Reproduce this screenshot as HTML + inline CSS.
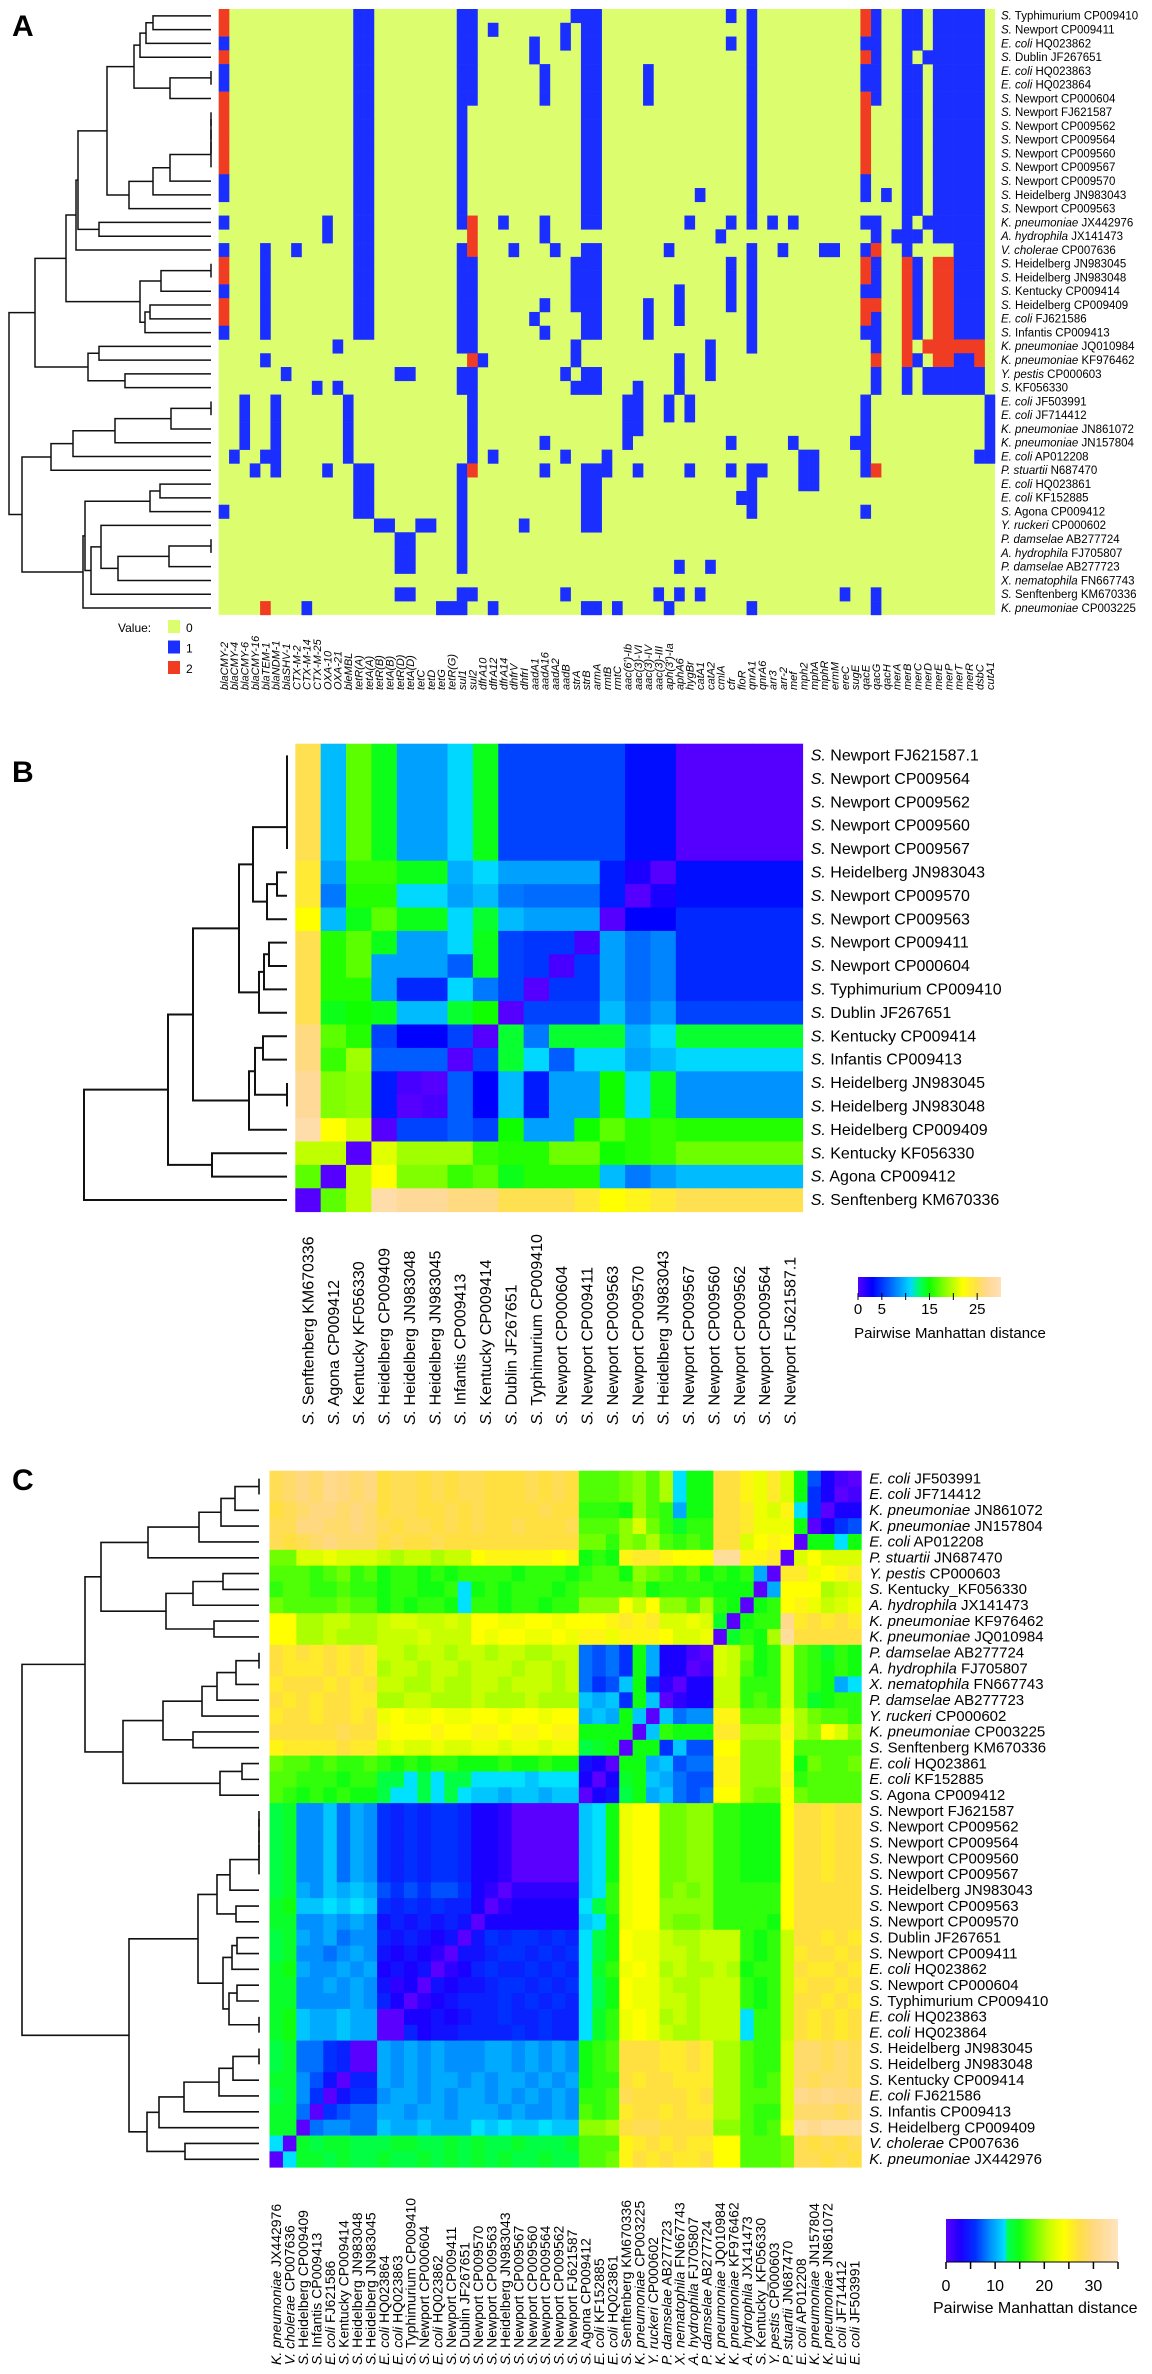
<!DOCTYPE html>
<html><head><meta charset="utf-8">
<style>
body{margin:0;background:#fff}
svg{display:block}
text{font-family:"Liberation Sans",sans-serif;fill:#000}
</style></head>
<body>
<svg id="fig" width="1152" height="2374" viewBox="0 0 1152 2374" xmlns="http://www.w3.org/2000/svg">
<defs id="defs"></defs>
<text x="12" y="36" font-size="30" font-weight="bold">A</text>
<text x="12" y="782" font-size="30" font-weight="bold">B</text>
<text x="12" y="1490" font-size="30" font-weight="bold">C</text>
<g id="gA"></g>
<g id="gB"></g>
<g id="gC"></g>
</svg>
<script>
// ---------------- Panel A data ----------------
const aGenes = ["blaCMY-2","blaCMY-4","blaCMY-6","blaCMY-16","blaTEM-1","blaNDM-1","blaSHV-1","CTX-M-2","CTX-M-14","CTX-M-25","OXA-10","OXA-21","bleMBL","tetR(A)","tetA(A)","tetR(B)","tetA(B)","tetR(D)","tetA(D)","tetC","tetD","tetG","tetR(G)","sul1","sul2","dfrA10","dfrA12","dfrA14","dhfrV","dhfrI","aadA1","aadA16","aadA2","aadB","strA","strB","armA","rmtB","rmtC","aac(6')-Ib","aac(3)-VI","aac(3)-IV","aac(3)-III","aph(3')-Ia","aphA6","hygBr","catA1","catA2","cmlA","cfr","floR","qnrA1","qnrA6","arr3","arr-2","mef","mph2","mphA","mphR","ermM","ereC","sugE","qacE","qacG","qacH","merA","merB","merC","merD","merE","merP","merT","merR","dsbC","cutA1"];
const aStrains = ["S. Typhimurium CP009410","S. Newport CP009411","E. coli HQ023862","S. Dublin JF267651","E. coli HQ023863","E. coli HQ023864","S. Newport CP000604","S. Newport FJ621587","S. Newport CP009562","S. Newport CP009564","S. Newport CP009560","S. Newport CP009567","S. Newport CP009570","S. Heidelberg JN983043","S. Newport CP009563","K. pneumoniae JX442976","A. hydrophila JX141473","V. cholerae CP007636","S. Heidelberg JN983045","S. Heidelberg JN983048","S. Kentucky CP009414","S. Heidelberg CP009409","E. coli FJ621586","S. Infantis CP009413","K. pneumoniae JQ010984","K. pneumoniae KF976462","Y. pestis CP000603","S. KF056330","E. coli JF503991","E. coli JF714412","K. pneumoniae JN861072","K. pneumoniae JN157804","E. coli AP012208","P. stuartii N687470","E. coli HQ023861","E. coli KF152885","S. Agona CP009412","Y. ruckeri CP000602","P. damselae AB277724","A. hydrophila FJ705807","P. damselae AB277723","X. nematophila FN667743","S. Senftenberg KM670336","K. pneumoniae CP003225"];
const aBlue = [
[13,14,23,24,34,35,36,49,51,63,66,67,69,70,71,72,73],
[13,14,23,24,26,33,35,36,51,63,66,67,69,70,71,72,73],
[0,13,14,23,24,30,33,35,36,49,51,62,63,66,67,69,70,71,72,73],
[13,14,23,24,30,35,36,51,63,66,68,69,70,71,72,73],
[0,13,14,23,24,31,35,36,41,51,62,63,66,67,69,70,71,72,73],
[0,13,14,23,24,31,35,36,41,51,62,63,66,67,69,70,71,72,73],
[13,14,23,24,31,35,36,41,51,63,66,67,69,70,71,72,73],
[13,14,23,35,36,51,66,67,69,70,71,72,73],
[13,14,23,35,36,51,66,67,69,70,71,72,73],
[13,14,23,35,36,51,66,67,69,70,71,72,73],
[13,14,23,35,36,51,66,67,69,70,71,72,73],
[13,14,23,35,36,51,66,67,69,70,71,72,73],
[0,13,14,23,35,36,51,62,66,67,69,70,71,72,73],
[0,13,14,23,35,36,46,51,62,64,66,67,69,70,71,72,73],
[13,14,23,35,36,51,66,67,69,70,71,72,73],
[0,10,13,14,23,27,31,35,36,45,49,51,53,55,62,63,66,68,69,70,71,72,73],
[10,13,14,31,48,63,65,66,67,69,70,71,72,73],
[0,4,7,13,14,23,28,32,35,36,43,51,54,58,59,62,66,71,72,73],
[4,13,14,23,24,34,35,36,49,51,63,67,71,72,73],
[4,13,14,23,24,34,35,36,49,51,63,67,71,72,73],
[0,4,13,14,23,24,34,35,36,44,49,51,62,63,67,71,72,73],
[4,13,14,23,24,31,34,35,36,41,44,49,51,67,71,72,73],
[4,13,14,23,24,30,35,36,41,44,51,63,67,71,72,73],
[0,4,13,14,23,24,31,35,36,41,51,62,63,67,71,72,73],
[11,23,24,34,47,51,63],
[4,25,34,44,47,67,71,72],
[6,17,18,23,24,33,35,36,44,47,63,66,68,69,70,71,72,73],
[9,11,23,24,34,35,36,40,44,63,66,68,69,70,71,72,73],
[2,5,12,24,39,40,43,45,62,74],
[2,5,12,24,39,40,43,45,62,74],
[2,5,12,24,39,40,62,74],
[2,5,12,24,31,39,49,55,61,62,74],
[1,4,5,12,24,26,33,37,56,57,62,73,74],
[3,5,10,13,14,23,31,35,36,37,40,45,49,51,52,56,57,62],
[13,14,23,35,36,51,56,57],
[13,14,23,35,36,50,51],
[0,13,14,23,35,36,51,62],
[15,16,19,20,23,29,35,36],
[17,18,23],
[17,18,23],
[17,18,23,44,47],
[],
[17,18,23,24,33,42,44,46,60,63],
[8,21,22,23,26,35,36,38,43,51,63]
];
const aRed = [
[0,62],[0,62],[],[0,62],[],[],[0,62],[0,62],[0,62],[0,62],[0,62],[0,62],[],[],[],
[24],[24],[24,63],[0,62,66,69,70],[0,62,66,69,70],[66,69,70],[0,62,63,66,69,70],[0,62,66,69,70],[66,69,70],
[66,68,69,70,71,72,73],[24,63,66,69,70,73],[],[],[],[],[],[],[],[24,63],[],[],[],[],[],[],[],[],[],[4]
];
// A tree: [left, right, mergeHeight]
const aT03 = [[[0,1,58],2,65],3,71];
const aT46 = [[4,5,0],6,41];
const aT06 = [aT03,aT46,77];
const aT714 = [[[[[[[7,8,0],9,0],10,0],11,0],12,41],13,58],14,82];
const aT014 = [aT06,aT714,104];
const aT016 = [aT014,[15,16,112],133];
const aT017 = [aT016,17,135];
const aT1823 = [[[18,19,0],20,50],[[21,22,61],23,66],71];
const aT023 = [aT017,aT1823,145];
const aT2427 = [[24,25,112],[26,27,86],123];
const aT027 = [aT023,aT2427,176];
const aT2832 = [[[[28,29,0],30,40],31,96],32,138];
const aT2833 = [aT2832,33,160];
const aA1 = [[34,35,51],36,61];
const aB2 = [[[38,39,0],40,42],41,93];
const aB4 = [[37,aB2,110],42,120];
const aT3443 = [[aA1,aB4,126],43,128];
const aT2843 = [aT2833,aT3443,189];
const aTreeData = [aT027,aT2843,202];
// ---------------- Panel B data ----------------
const bStrains = ["S. Newport FJ621587.1","S. Newport CP009564","S. Newport CP009562","S. Newport CP009560","S. Newport CP009567","S. Heidelberg JN983043","S. Newport CP009570","S. Newport CP009563","S. Newport CP009411","S. Newport CP000604","S. Typhimurium CP009410","S. Dublin JF267651","S. Kentucky CP009414","S. Infantis CP009413","S. Heidelberg JN983045","S. Heidelberg JN983048","S. Heidelberg CP009409","S. Kentucky KF056330","S. Agona CP009412","S. Senftenberg KM670336"];
const bValues = [
[25,10,17,14.5,9,9,11,14.5,5.5,5.5,5.5,5.5,5.5,3.5,3.5,0,0,0,0,0],
[25,10,17,14.5,9,9,11,14.5,5.5,5.5,5.5,5.5,5.5,3.5,3.5,0,0,0,0,0],
[25,10,17,14.5,9,9,11,14.5,5.5,5.5,5.5,5.5,5.5,3.5,3.5,0,0,0,0,0],
[25,10,17,14.5,9,9,11,14.5,5.5,5.5,5.5,5.5,5.5,3.5,3.5,0,0,0,0,0],
[25,10,17,14.5,9,9,11,14.5,5.5,5.5,5.5,5.5,5.5,3.5,3.5,0,0,0,0,0],
[24,9,16,16,14.5,14.5,9.5,11,9,9,9,9,4,2,0,3.5,3.5,3.5,3.5,3.5],
[24,7.5,15.5,15.5,11,11,9,10,7.5,7,7,7,4,0,2,3.5,3.5,3.5,3.5,3.5],
[22,10,14.5,17,14.5,14.5,11,14,10,9,9,9,0,3,3,4.5,4.5,4.5,4.5,4.5],
[25,15.5,17,14.5,9,9,11,14.5,5.5,5,5,0.5,9,7,8,4.5,4.5,4.5,4.5,4.5],
[25,15.5,17,9,9,9,6.5,14.5,5.5,5,0.5,5,9,7,8,4.5,4.5,4.5,4.5,4.5],
[25,15.5,15.5,9,4.5,4.5,11,7.5,5.5,0,5,5,9,7,8,4.5,4.5,4.5,4.5,4.5],
[25,14.5,15,14.5,10,10,14,15,0,5.5,5.5,5.5,10,7.5,9,5.5,5.5,5.5,5.5,5.5],
[26.5,17,15.5,5.5,3,3,5.5,0,14,7.5,14,14,14,9.5,11,14,14,14,14,14],
[26.5,16,19,6.5,6.5,6.5,0,5.5,14,11,6.5,11,11,9,10,11,11,11,11,11],
[27.5,18,18.5,4,0.5,0,6.5,3,10,4,9,9,15,11,14.5,8.5,8.5,8.5,8.5,8.5],
[27.5,18,18.5,4,0,0.5,6.5,3,10,4,9,9,15,11,14.5,8.5,8.5,8.5,8.5,8.5],
[29,22,20.5,0,5.5,5.5,6.5,5.5,15,9,9,15,17,15.5,16,15.5,15.5,15.5,15.5,15.5],
[20,20,0,21,19,19,19,16,15.5,15.5,17.5,17.5,15,15.5,16,17.5,17.5,17.5,17.5,17.5],
[17,0,20,22,18,18,16,17,14.5,15.5,15.5,15.5,10,7.5,9,10,10,10,10,10],
[0,17,20,29,27.5,27.5,26.5,26.5,25,25,25,24,22,23,24,25,25,25,25,25]
];
const bTicks = [0,5,15,25];
const bT04 = [[[[0,1,0],2,0],3,0],4,0];
const bT57 = [[5,6,10],7,20];
const bT07 = [bT04,bT57,34];
const bT811 = [[[8,9,18],10,23],11,28];
const bT011 = [bT07,bT811,48];
const bT1216 = [[[12,13,24],[14,15,0],32],16,38];
const bT016 = [bT011,bT1216,94];
const bT018 = [bT016,[17,18,75],119];
const bTreeData = [bT018,19,203];
// ---------------- Panel C data ----------------
const cStrains = ["E. coli JF503991","E. coli JF714412","K. pneumoniae JN861072","K. pneumoniae JN157804","E. coli AP012208","P. stuartii JN687470","Y. pestis CP000603","S. Kentucky_KF056330","A. hydrophila JX141473","K. pneumoniae KF976462","K. pneumoniae JQ010984","P. damselae AB277724","A. hydrophila FJ705807","X. nematophila FN667743","P. damselae AB277723","Y. ruckeri CP000602","K. pneumoniae CP003225","S. Senftenberg KM670336","E. coli HQ023861","E. coli KF152885","S. Agona CP009412","S. Newport FJ621587","S. Newport CP009562","S. Newport CP009564","S. Newport CP009560","S. Newport CP009567","S. Heidelberg JN983043","S. Newport CP009563","S. Newport CP009570","S. Dublin JF267651","S. Newport CP009411","E. coli HQ023862","S. Newport CP000604","S. Typhimurium CP009410","E. coli HQ023863","E. coli HQ023864","S. Heidelberg JN983045","S. Heidelberg JN983048","S. Kentucky CP009414","E. coli FJ621586","S. Infantis CP009413","S. Heidelberg CP009409","V. cholerae CP007636","K. pneumoniae JX442976"];
// base-36 coded distances, rows and columns in strain order (display columns are reversed)
const cValues = [
"0137f m qnp rr ffck hji hhh rsrsrrrs srsrssr utuvtu ts",
"1036f m qnp rr ffck hji hhh rsrsrrrs srsrssr utuvtu ts",
"3306c p mnq rr ffag hjf ggg rrsrrrrs rsrrssr tutuut sr",
"7630f n nnq rr ggeg imj hhh srrrsrrs rsrssrs tuttuu ss",
"fcff0 o pom rr ghgh kij gii rrrrrrrr rrsrrsr tttuts rs",
"mmmom 0 qpp ww ooop qqp fgf popppppo llkllkl mmmnmm ii",
"qponq q 0ag fg fhgh ijf hhg fgggfggg gfgfggf hgihgh hh",
"mlkoo o a0f ff gggg fih hhh gfgggfgf cgffggf gghggh hg",
"nmlnp o gf0 fg khjj olo jjj ggfggfgg cfggfgf hhihhh hi",
"qrqrq v ggf 0e mnmm qpq poo onoonnoo lmllmml kkllkk oo",
"rrrrr w kfg e0 nmmo ppp npp nonnoono lllmlll kkklkk oo",
"fgegh m gfi lm 0133 af6 878 llkkllkl lkllkll qrqrqr qr",
"fgfgh m gfh lm 1033 af6 878 lkllklll kllkllk qrqrqq qr",
"cafgh m ggg ll 3302 6fb 768 lklllkll kklkkll rqrqrr rq",
"ggfeh m ghg ll 3320 bf6 bab kkklkkkl kkkllkk qqrrqr qr",
"ghhik n iii pp 998b 0bf aba oonoonoo nnonnon rqrrqr rq",
"jmojk p kkk qq fffg b0f fff ppoppopp oopooop rrsrrr rr",
"hhhhh o jjj oo 77b6 ff0 fed nnmnnmnn mmnmmnm qqrqqq qp",
"ihhif o jjj pp 887b aff 034 ffgffgff fggfgfg hgghgh hi",
"hhhhg p jjj pp 778a bfe 303 cccbcccc ddcdcdd ggfggg hh",
"hhhhi o iij oo 878b afd 430 bbabbabb cdcdccd ffgfgf gh",
"rrqrr o fff gg jjii oon fcb 00000233 5665656 9a8b99 ed",
"rrqrr o fff gg jjii oon fcb 00000233 5665656 9a8b99 ed",
"rrqrr o fff gg jjii oon fcb 00000233 5665656 9a8b99 ed",
"rrqrr o fff gg jjii oon fcb 00000233 5665656 9a8b99 ed",
"rrqrr o fff gg jjii oon fcb 00000233 5665656 9a8b99 ed",
"rrrrr o ggg gg jiji oon gcb 22222023 6776767 abab9a ed",
"rrrrr o ggg gg jjjj oon gdc 33333203 5565656 bcbcbb fe",
"rrrrr o fgg gg jiij oon fcb 33333330 4545454 9a9a99 ee",
"qrqrr l gfg ll lkkl nno fdc 56566564 0434545 998a9a ed",
"rqrrq l gfg ll lkll nno fdc 65656654 4023434 9a9899 ed",
"qrqqr l ggf kl kklk non gec 56565565 3204343 a9a99a fe",
"rqrrq l gfg ll lkkl nno fdc 65656654 4340324 9a9a99 ee",
"qrqrr l gfg ll lkll nno fdc 56565655 5432035 9a9999 ee",
"rqrqr l ggc ll lklk non gec 55655655 4343300 aabaab fe",
"rqrqr l ggc ll lkkl non gec 55656555 5443500 aabaab fe",
"ststt m ggh kk qrqq rrr hgf 9a9a9aa9 99a9a9a 005688 ed",
"ststt m ggh kk qrqq rrr hgf 9a9a9aa9 99a9a9a 005688 ed",
"sttst m hgh kk qqqr rqr ggf a9a9aa9a 9aa9a9a 550479 ee",
"uuvuv m hhh kk rqrr rrs hgg 9a9a9a9a a9a9aa9 664069 ed",
"tsttt m ggh kk qqrq rrq hgh 9a99a9aa a9aa9aa 887608 ee",
"wwwvw n hgh jj rrrr ssr kjj bbcbbcbc aaabaab 889980 ee",
"srsrs i hhh oo qqrq rqp hhh edddedde deddeed ddeede 0c",
"rsrss i hhh oo rqqr qrp ihh ddeddede dededde ddedee c0"
];
const cTicks = [0,10,20,30];
const cG1 = [[[[[0,1,0],2,24],3,38],4,60],5,111];
const cG3 = [[[6,7,36],8,66],[9,10,45],93];
const cT010 = [cG1,cG3,158];
const cG5 = [[[[[11,12,0],13,23],14,42],15,57],[16,17,66],96];
const cG7 = [[18,19,17],20,39];
const cT1120 = [cG5,cG7,136];
const cT020 = [cT010,cT1120,174];
const cG8 = [[[[[[21,22,0],23,0],24,0],25,0],26,29],[27,28,23],42];
const cG9 = [[[29,30,22],31,27],[[32,33,22],[34,35,0],30],36];
const cT2135 = [cG8,cG9,61];
const cG10 = [[[[[36,37,0],38,26],39,40],40,75],41,100];
const cT3643 = [cG10,[42,43,74],112];
const cT2143 = [cT2135,cT3643,130];
const cTreeData = [cT020,cT2143,237];

// ---------------- helpers ----------------
const NS = "http://www.w3.org/2000/svg";
function el(tag, parent){const e=document.createElementNS(NS,tag);parent.appendChild(e);return e;}
function hex2rgb(h){return [parseInt(h.slice(1,3),16),parseInt(h.slice(3,5),16),parseInt(h.slice(5,7),16)];}
function makeScale(stops){return function(v){
  if(!(v>stops[0][0]))return stops[0][1];
  for(let i=1;i<stops.length;i++){if(v<=stops[i][0]){const a=stops[i-1],b=stops[i];const t=(v-a[0])/(b[0]-a[0]);const ca=hex2rgb(a[1]),cb=hex2rgb(b[1]);return "rgb("+ca.map((c,k)=>Math.round(c+(cb[k]-c)*t)).join(",")+")";}}
  return stops[stops.length-1][1];};}
const bStops=[[0,'#5500ff'],[3,'#0000ff'],[6,'#0050ff'],[9,'#00a0ff'],[11,'#00d8ff'],[13,'#00ff60'],[15,'#10ff00'],[18,'#80ff00'],[20,'#c0ff00'],[22,'#ffff00'],[25,'#ffe050'],[27,'#ffd890'],[30,'#ffe0b8']];
const cStops=[[0,'#5a00ff'],[3,'#1a00ff'],[6,'#0030ff'],[9,'#0090ff'],[12,'#00e0ff'],[12.5,'#00ff50'],[15,'#10ff10'],[18,'#70ff00'],[21,'#c8ff00'],[24,'#ffff00'],[27,'#ffe040'],[30,'#ffd880'],[35,'#ffe4c0']];
const bColor=makeScale(bStops), cColor=makeScale(cStops);
const aColors=['#dcfd6e','#1a2fff','#f03c22'];

function addLabel(parent,x,y,name,fs){
  const t=el('text',parent);t.setAttribute('x',x);t.setAttribute('y',y);t.setAttribute('font-size',fs);
  let ital,rest;
  if(name.indexOf('S. ')===0){ital='S.';rest=name.slice(2);}
  else{const p=name.split(' ');ital=p[0]+' '+p[1];rest=name.slice(ital.length);}
  const s1=el('tspan',t);s1.setAttribute('font-style','italic');s1.textContent=ital;
  if(rest){const s2=el('tspan',t);s2.textContent=rest;}
  return t;
}
function drawTree(parent,node,leafX,rowY,sw){
  function rec(n){
    if(typeof n==='number')return {x:leafX,y:rowY(n)};
    const L=rec(n[0]),R=rec(n[1]);const x=leafX-n[2];
    const p=el('path',parent);
    p.setAttribute('d','M'+L.x+' '+L.y+'H'+x+'V'+R.y+'H'+R.x);
    p.setAttribute('fill','none');p.setAttribute('stroke','#111');p.setAttribute('stroke-width',sw);
    
    
    return {x:x,y:(L.y+R.y)/2};
  }
  rec(node);
}
function gradient(id,stops,max){
  const g=el('linearGradient',document.getElementById('defs'));g.setAttribute('id',id);
  stops.forEach(s=>{const st=el('stop',g);st.setAttribute('offset',(s[0]/max*100)+'%');st.setAttribute('stop-color',s[1]);});
}

// ---------------- Panel A ----------------
(function(){
  const g=document.getElementById('gA');
  const x0=218.7,cw=10.35,y0=9,rh=13.77;
  const colX=j=>x0+j*cw, rowY=i=>y0+i*rh;
  const bg=el('rect',g);bg.setAttribute('x',x0);bg.setAttribute('y',y0);bg.setAttribute('width',aGenes.length*cw);bg.setAttribute('height',aStrains.length*rh);bg.setAttribute('fill',aColors[0]);
  
  
  for(let i=0;i<aStrains.length;i++){
    [[aBlue[i]||[],1],[aRed[i]||[],2]].forEach(pair=>{
      const list=pair[0],v=pair[1];
      list.forEach(j=>{
        const r=el('rect',g);r.setAttribute('x',colX(j));r.setAttribute('y',rowY(i));r.setAttribute('width',cw+0.3);r.setAttribute('height',rh+0.3);r.setAttribute('fill',aColors[v]);
        
        
      });
    });
    const t=addLabel(g,x0+aGenes.length*cw+6,rowY(i)+rh*0.78,aStrains[i],11.5);
    
    
  }
  aGenes.forEach((name,j)=>{
    const cx=colX(j)+cw/2+4, y=690;
    const t=el('text',g);t.setAttribute('x',cx);t.setAttribute('y',y);t.setAttribute('font-size',11);t.setAttribute('font-style','italic');
    t.setAttribute('transform','rotate(-90 '+cx+' '+y+')');t.textContent=name;
    
    
  });
  drawTree(g,aTreeData,211,i=>rowY(i)+rh/2,1.5);
  const vl=el('text',g);vl.setAttribute('x',118);vl.setAttribute('y',632);vl.setAttribute('font-size',12);vl.textContent='Value:';
  
  
  [0,1,2].forEach(v=>{
    const r=el('rect',g);r.setAttribute('x',168);r.setAttribute('y',620+v*20.5);r.setAttribute('width',12);r.setAttribute('height',13);r.setAttribute('fill',aColors[v]);
    
    
    const t=el('text',g);t.setAttribute('x',186);t.setAttribute('y',632+v*20.5);t.setAttribute('font-size',12);t.textContent=String(v);
    
    
  });
})();

// ---------------- Panel B ----------------
(function(){
  const g=document.getElementById('gB');
  const x0=295.3,cw=25.37,y0=743.7,rh=23.4,n=bStrains.length;
  const colX=j=>x0+j*cw,rowY=i=>y0+i*rh;
  for(let i=0;i<n;i++){
    for(let j=0;j<n;j++){
      const r=el('rect',g);r.setAttribute('x',colX(j));r.setAttribute('y',rowY(i));r.setAttribute('width',cw+0.4);r.setAttribute('height',rh+0.4);r.setAttribute('fill',bColor(bValues[i][j]));
      
      
    }
    const t=addLabel(g,x0+n*cw+8,rowY(i)+rh*0.72,bStrains[i],16);
    
    
    const cx=colX(i)+cw/2+5.5,y=1425;
    const c=addLabel(g,cx,y,bStrains[n-1-i],16);
    c.setAttribute('transform','rotate(-90 '+cx+' '+y+')');
    
    
  }
  drawTree(g,bTreeData,287,i=>rowY(i)+rh/2,2);
  gradient('gradB',bStops,30);
  const lx=858,lw=143,ly=1277,lh=20,max=30;
  const gr=el('rect',g);gr.setAttribute('x',lx);gr.setAttribute('y',ly);gr.setAttribute('width',lw);gr.setAttribute('height',lh);gr.setAttribute('fill','url(#gradB)');
  
  
  [0,5,10,15,20,25].forEach(v=>{const x=lx+v/max*lw;const l=el('line',g);l.setAttribute('x1',x);l.setAttribute('x2',x);l.setAttribute('y1',ly+lh-4);l.setAttribute('y2',ly+lh+3);l.setAttribute('stroke','#000');
    
    });
  bTicks.forEach(v=>{const t=el('text',g);t.setAttribute('x',lx+v/max*lw);t.setAttribute('y',ly+lh+17);t.setAttribute('font-size',15);t.setAttribute('text-anchor','middle');t.textContent=v;
    
    });
  const tt=el('text',g);tt.setAttribute('x',950);tt.setAttribute('y',1338);tt.setAttribute('font-size',15);tt.setAttribute('text-anchor','middle');tt.textContent='Pairwise Manhattan distance';
  
  
})();

// ---------------- Panel C ----------------
(function(){
  const g=document.getElementById('gC');
  const x0=269.5,cw=13.45,y0=1470.7,rh=15.83,n=cStrains.length;
  const colX=j=>x0+j*cw,rowY=i=>y0+i*rh;
  const rows=cValues.map(s=>s.replace(/ /g,'').split('').map(ch=>parseInt(ch,36)));
  rows.forEach((r,i)=>{if(r.length!==n)console.warn('Panel C data row '+i+' has '+r.length+' values, expected '+n);});
  for(let i=0;i<n;i++){
    for(let j=0;j<n;j++){
      const v=rows[i][n-1-j];
      const r=el('rect',g);r.setAttribute('x',colX(j));r.setAttribute('y',rowY(i));r.setAttribute('width',cw+0.4);r.setAttribute('height',rh+0.4);r.setAttribute('fill',cColor(v));
      
      
    }
    const t=addLabel(g,x0+n*cw+8,rowY(i)+rh*0.8,cStrains[i],15);
    
    
    const cx=colX(i)+cw/2+5,y=2365;
    const c=addLabel(g,cx,y,cStrains[n-1-i],14);
    c.setAttribute('transform','rotate(-90 '+cx+' '+y+')');
    
    
  }
  drawTree(g,cTreeData,259,i=>rowY(i)+rh/2,1.6);
  gradient('gradC',cStops,35);
  const lx=946,lw=172,ly=2219,lh=43,max=35;
  const gr=el('rect',g);gr.setAttribute('x',lx);gr.setAttribute('y',ly);gr.setAttribute('width',lw);gr.setAttribute('height',lh);gr.setAttribute('fill','url(#gradC)');
  
  
  const ax=el('line',g);ax.setAttribute('x1',lx);ax.setAttribute('x2',lx+lw);ax.setAttribute('y1',ly+lh);ax.setAttribute('y2',ly+lh);ax.setAttribute('stroke','#000');
  
  
  [0,5,10,15,20,25,30,35].forEach(v=>{const x=lx+v/max*lw;const l=el('line',g);l.setAttribute('x1',x);l.setAttribute('x2',x);l.setAttribute('y1',ly+lh);l.setAttribute('y2',ly+lh+7);l.setAttribute('stroke','#000');l.setAttribute('stroke-width',1.5);
    
    });
  cTicks.forEach(v=>{const t=el('text',g);t.setAttribute('x',lx+v/max*lw);t.setAttribute('y',ly+lh+29);t.setAttribute('font-size',16);t.setAttribute('text-anchor','middle');t.textContent=v;
    
    });
  const tt=el('text',g);tt.setAttribute('x',933);tt.setAttribute('y',2313);tt.setAttribute('font-size',16);tt.textContent='Pairwise Manhattan distance';
  
  
})();
</script>
</body></html>
